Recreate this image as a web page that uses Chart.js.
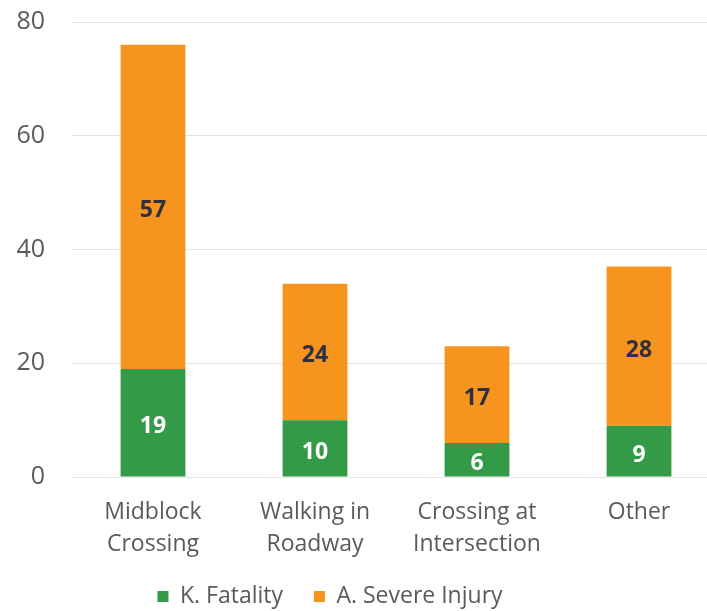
<!DOCTYPE html>
<html>
<head>
<meta charset="utf-8">
<script src="https://cdn.jsdelivr.net/npm/chart.js@4/dist/chart.umd.min.js"></script>
<style>
  html, body { margin: 0; padding: 0; background: #ffffff; overflow: hidden; }
  #wrap { width: 720px; height: 611px; }
</style>
</head>
<body>
<div id="wrap"><canvas id="c" width="720" height="611"></canvas></div>
<script>
const categories = [["Midblock", "Crossing"], ["Walking in", "Roadway"], ["Crossing at", "Intersection"], "Other"];
const fatality = [19, 10, 6, 9];
const severeInjury = [57, 24, 17, 28];
const yTicks = [0, 20, 40, 60, 80];

const FONT = "'Open Sans', 'DejaVu Sans', sans-serif";
const GREEN = '#339a48';
const ORANGE = '#f7941e';

const valueLabels = {
  id: 'valueLabels',
  afterDatasetsDraw(chart) {
    const ctx = chart.ctx;
    ctx.save();
    ctx.font = 'bold 23px ' + FONT;
    ctx.textAlign = 'center';
    ctx.textBaseline = 'middle';
    chart.data.datasets.forEach((ds, di) => {
      const meta = chart.getDatasetMeta(di);
      meta.data.forEach((el, i) => {
        const y = (el.y + el.base) / 2;
        ctx.fillStyle = ds.labelColor;
        ctx.fillText(String(ds.data[i]), el.x, y + 4);
      });
    });
    ctx.restore();
  }
};

const shiftLegend = {
  id: 'shiftLegend',
  afterLayout(chart) {
    const lg = chart.legend;
    if (lg) {
      lg.left -= 30;
      lg.right -= 30;
      lg.top += 7;
      lg.bottom += 7;
    }
  }
};

new Chart(document.getElementById('c'), {
  type: 'bar',
  data: {
    labels: categories,
    datasets: [
      { label: 'K. Fatality', data: fatality, backgroundColor: GREEN, labelColor: '#ffffff' },
      { label: 'A. Severe Injury', data: severeInjury, backgroundColor: ORANGE, labelColor: '#2e2f40' }
    ]
  },
  options: {
    responsive: false,
    animation: false,
    layout: { padding: { top: 22, right: 0, left: 0, bottom: 0 } },
    datasets: { bar: { categoryPercentage: 0.5, barPercentage: 0.8 } },
    scales: {
      x: {
        stacked: true,
        grid: { display: false },
        border: { display: false },
        ticks: {
          color: '#5a5a5a',
          font: { family: FONT, size: 23, lineHeight: 1.39 },
          padding: 11,
          maxRotation: 0,
          autoSkip: false
        }
      },
      y: {
        stacked: true,
        min: 0,
        max: 80,
        afterFit(scale) { scale.width = 72; scale.paddingTop = 0; scale.paddingBottom = 0; },
        afterBuildTicks(scale) { scale.ticks = yTicks.map(v => ({ value: v })); },
        grid: { color: '#e4e4e4', lineWidth: 1, drawTicks: false },
        border: { display: false },
        ticks: {
          color: '#5a5a5a',
          font: { family: FONT, size: 25 },
          padding: 27
        }
      }
    },
    plugins: {
      legend: {
        position: 'bottom',
        labels: {
          boxWidth: 11,
          boxHeight: 11,
          padding: 7,
          color: '#5a5a5a',
          font: { family: FONT, size: 23 },
          generateLabels(chart) {
            const items = Chart.defaults.plugins.legend.labels.generateLabels(chart);
            items.forEach((it, i) => { if (i === 0) it.text = it.text + '    '; });
            return items;
          }
        }
      },
      tooltip: { enabled: false }
    }
  },
  plugins: [valueLabels, shiftLegend]
});
</script>
</body>
</html>
